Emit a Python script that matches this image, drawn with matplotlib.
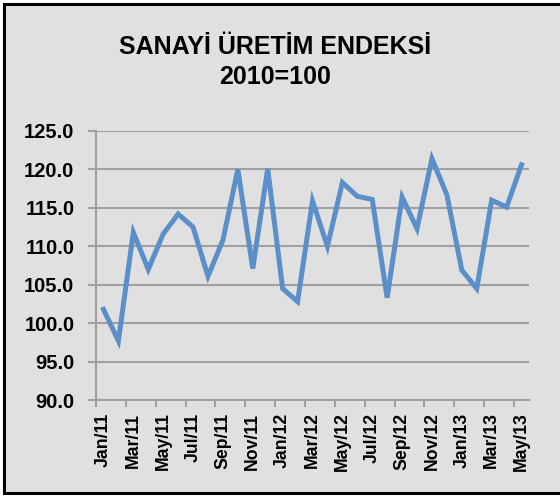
import matplotlib
matplotlib.use("Agg")
import matplotlib.pyplot as plt
from matplotlib.patches import Rectangle

plt.rcParams['font.family'] = ['Liberation Sans', 'DejaVu Sans']

months = ["Jan", "Feb", "Mar", "Apr", "May", "Jun", "Jul", "Aug", "Sep", "Oct", "Nov", "Dec"]
labels = [f"{m}/{y}" for y in ("11", "12", "13") for m in months][:29]

index = [101.8, 97.7, 111.8, 107.0, 111.6, 114.2, 112.5, 106.1, 110.8, 120.0,
         107.1, 120.1, 104.5, 102.8, 115.9, 110.0, 118.3, 116.5, 116.1, 103.3,
         116.4, 112.3, 121.4, 116.7, 106.9, 104.5, 116.0, 115.1, 120.6]

yticks = [90, 95, 100, 105, 110, 115, 120, 125]

bg = "#E0E0E0"
grid = "#A0A0A0"

fig = plt.figure(figsize=(5.6, 4.96), dpi=100)
fig.patch.set_facecolor("white")

# chart area frame (right edge is cut off in the reference)
fig.patches.append(Rectangle((4 / 560, 3 / 496), 600 / 560, 489 / 496,
                             transform=fig.transFigure, facecolor=bg,
                             edgecolor="black", linewidth=2.2, zorder=-1))

ax = fig.add_axes([96 / 560, 1 - 400 / 496, 433 / 560, 269 / 496])
ax.set_zorder(1)
ax.patch.set_alpha(0)

x = list(range(len(index)))
ax.plot(x, index, color="#5B8FC9", linewidth=3.6, solid_joinstyle="miter", zorder=3)

ax.set_xlim(-0.5, len(index) - 0.5)
ax.set_ylim(90, 125)
ax.set_yticks(yticks)
ax.set_yticklabels([f"{v:.1f}" for v in yticks], fontsize=14.5, fontweight="bold")
ax.yaxis.grid(True, color=grid, linewidth=1.5)
ax.set_axisbelow(True)

# tick marks between categories, labels under every other month
ax.set_xticks([i - 0.5 for i in range(0, len(index), 2)])
ax.set_xticklabels([])
ax.set_xticks(list(range(0, len(index), 2)), minor=True)
ax.set_xticklabels(labels[::2], minor=True, rotation=90, fontsize=12.7, fontweight="bold")
ax.tick_params(axis="x", which="minor", length=0, pad=9)
ax.tick_params(axis="x", which="major", length=5, color=grid, width=1.5)
ax.tick_params(axis="y", length=6, color=grid, width=1.5, pad=9.5)

for s in ("top", "right"):
    ax.spines[s].set_visible(False)
for s in ("left", "bottom"):
    ax.spines[s].set_color(grid)
    ax.spines[s].set_linewidth(1.5)

fig.text(275 / 560, 1 - 62 / 496, "SANAYİ ÜRETİM ENDEKSİ\n2010=100", ha="center", va="center",
         fontsize=18, fontweight="bold", linespacing=1.35)

fig.savefig("out.png", dpi=100)
